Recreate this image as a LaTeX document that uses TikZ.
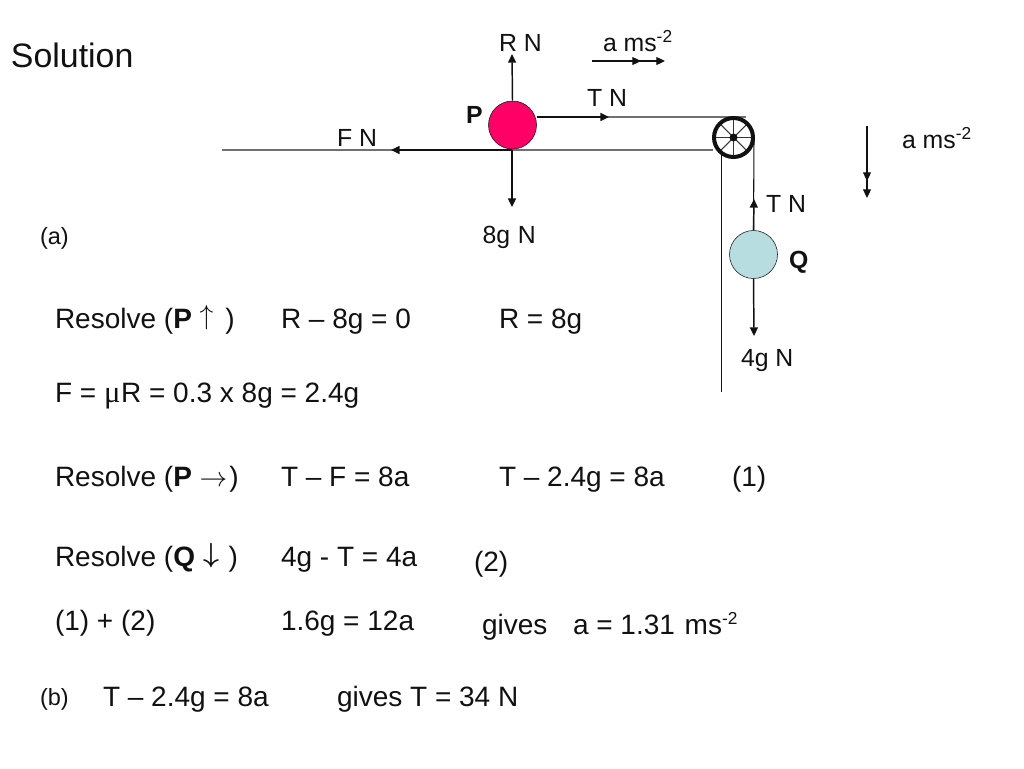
\documentclass[tikz,border=0pt]{standalone}
\usepackage{fontspec}
\setmainfont{Liberation Sans}
\newfontfamily\mufont{Liberation Serif}
\usetikzlibrary{arrows.meta}
\definecolor{rod}{HTML}{707070}
\definecolor{ink}{HTML}{111111}
\newcommand{\supmt}{\raisebox{0.34em}{\fontsize{13pt}{14pt}\selectfont -2}}
\tikzset{
  x=0.75pt,y=-0.75pt,
  txt/.style={anchor=base west,inner sep=0pt,outer sep=0pt,text=ink,font=\fontsize{21pt}{25pt}\selectfont},
  lab/.style={anchor=base west,inner sep=0pt,outer sep=0pt,text=ink,font=\fontsize{18.6pt}{22pt}\selectfont},
  ball/.style={circle,draw=ink,line width=0.4pt,minimum size=36pt,inner sep=0pt},
  force/.style={draw=ink,line width=1.1pt,-{Triangle[length=6.5pt,width=6pt]}},
  rope/.style={draw=rod,line width=1pt},
  thin rope/.style={draw=ink,line width=0.8pt},
  accel/.style={draw=ink,line width=0.8pt,-{Triangle[length=6.5pt,width=6pt]}},
}
\begin{document}
\begin{tikzpicture}
\useasboundingbox (0,0) rectangle (1024,768);
\fill[white] (0,0) rectangle (1024,768);
% free ends
\coordinate (fEnd) at (222,150);
\coordinate (fTip) at (391,150);
\coordinate (tMid) at (609,117);
\coordinate (tEnd) at (746,117);
\coordinate (tableTop) at (713,150);
\coordinate (wallTop) at (721.5,150);
\coordinate (wallEnd) at (721.5,392);
\coordinate (rTip) at (512,54);
\coordinate (gTip) at (512,207);
\coordinate (qT) at (754,199);
\coordinate (qW) at (754,336);
\coordinate (a1s) at (592,61);
\coordinate (a1m) at (641,61);
\coordinate (a1e) at (665,61);
\coordinate (a2s) at (867,126);
\coordinate (a2m) at (867,181);
\coordinate (a2e) at (867,198);
\coordinate (pBase) at (512,150);
\coordinate (pulleyRight) at (754,137);
% bodies placed first for naming
\node[ball,fill=white,draw=none] (P) at (512.5,125) {};
\node[ball,fill=white,draw=none] (Q) at (753.5,254.5) {};
\node[circle,minimum size=30pt,inner sep=0pt] (W) at (733.5,137.5) {};
% lines
\draw[rope] (fEnd) -- (tableTop);
\draw[rope] (P.east |- tEnd) -- (tEnd);
\draw[thin rope] (wallTop) -- (wallEnd);
\draw[force] (pBase) -- (fTip);
\draw[force] (P.north) -- (rTip);
\draw[force] (pBase) -- (gTip);
\draw[force] (P.east |- tEnd) -- (tMid);
\draw[force] (Q.north) -- (qT);
\draw[force] (Q.south) -- (qW);
\draw[accel] (a1s) -- (a1e);
\draw[accel] (a1s) -- (a1m);
\draw[accel] (a2s) -- (a2e);
\draw[accel] (a2s) -- (a2m);
% balls
\node[ball,fill={rgb,255:red,255;green,0;blue,102}] (P) at (512.5,125) {};
\node[ball,fill={rgb,255:red,183;green,221;blue,224}] (Q) at (753.5,254.5) {};
% pulley
\fill[white] (W.center) circle[radius=20];
\foreach \a in {0,45,...,315}
  \draw[draw=ink!85,line width=0.8pt] (W.center) -- +(\a:19);
\fill[ink] (W.center) circle[radius=4];
\draw[draw=ink,line width=3pt] (W.center) circle[radius=19.5];
\draw[thin rope] (pulleyRight) -- (Q.north);
% diagram labels
\node[txt,font=\fontsize{25.4pt}{30pt}\selectfont] (sol) at (11,67) {Solution};
\node[lab] (lr) at (499,51) {R N};
\node[lab] (la) at (603,51) {a ms\supmt};
\node[lab] (lt) at (587,106) {T N};
\node[lab] (lf) at (337,146) {F N};
\node[lab] (la2) at (902,148) {a ms\supmt};
\node[lab] (lt2) at (766,212) {T N};
\node[lab] (l8) at (482.5,243) {8g\kern0.6pt{} N};
\node[lab] (l4) at (741,366) {4g N};
\node[lab,font=\fontsize{18.6pt}{22pt}\selectfont\bfseries] (lp) at (466,123) {P};
\node[lab,font=\fontsize{18.6pt}{22pt}\selectfont\bfseries] (lq) at (789,268) {Q};
\node[lab,font=\fontsize{17.6pt}{20pt}\selectfont] (pa) at (40,244) {(a)};
% working
\node[txt] (r1) at (55,328) {Resolve (\textbf{P} \raisebox{3pt}{$\uparrow$}\kern3pt{} )};
\node[txt] (r2) at (281,328) {R – 8g = 0};
\node[txt] (r3) at (499,328) {R = 8g};
\node[txt] (f1) at (55,402) {F = {\mufont\fontsize{23pt}{25pt}\selectfont μ}\kern0.5pt{}R = 0.3 x 8g = 2.4g};
\node[txt] (s1) at (55,486) {Resolve (\textbf{P} $\rightarrow$\kern1.5pt{})};
\node[txt] (s2) at (281,486) {T – F = 8a};
\node[txt] (s3) at (499,486) {T – 2.4g = 8a};
\node[txt] (s4) at (732,486) {(1)};
\node[txt] (q1) at (55,566) {Resolve (\textbf{Q}\kern6pt{}\raisebox{3pt}{\boldmath$\downarrow$}\kern1.5pt{} )};
\node[txt] (q2) at (281,566) {4g - T = 4a};
\node[txt] (q3) at (474,571) {(2)};
\node[txt] (c1) at (55,630) {(1) + (2)};
\node[txt] (c2) at (281,630) {1.6g = 12a};
\node[txt] (c3) at (482,634) {gives};
\node[txt] (c4) at (573,634) {a = 1.31\kern1.5pt{} ms\supmt};
\node[lab,font=\fontsize{17.6pt}{20pt}\selectfont] (pb) at (40,705) {(b)};
\node[txt] (b1) at (103,706) {T – 2.4g = 8a};
\node[txt] (b2) at (337,706) {gives T = 34 N};
\end{tikzpicture}
\end{document}
